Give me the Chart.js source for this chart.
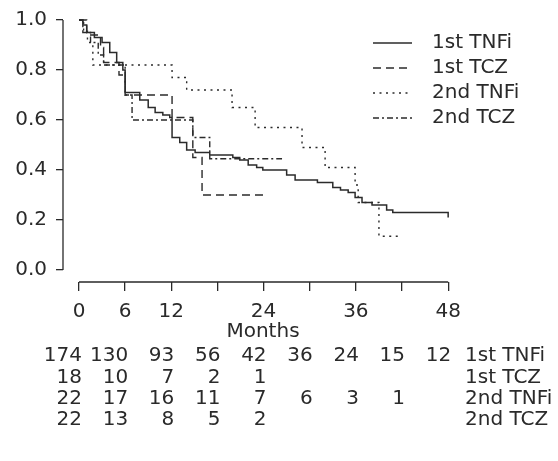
<!DOCTYPE html>
<html>
<head>
<meta charset="utf-8">
<script src="https://cdn.jsdelivr.net/npm/chart.js@4.4.1/dist/chart.umd.min.js"></script>
<style>
  html, body { margin: 0; padding: 0; background: #fff; }
</style>
</head>
<body>
<canvas id="kmChart" width="558" height="461"></canvas>
<script>
// Kaplan-Meier curves: event time (months) and survival after the step
const tnfi1Months = [0, 0.5, 1.0, 2.0, 3.0, 4.0, 4.9, 5.7, 6.0, 7.9, 9.0, 9.9, 10.9, 11.8, 12.1, 13.1, 14.0, 15.1, 17.0, 20.0, 20.9, 22.0, 23.1, 23.9, 27.0, 28.1, 31.0, 33.0, 34.0, 35.0, 35.9, 36.8, 38.1, 40.0, 40.8, 48.0];
const tnfi1Surv   = [1.0, 0.98, 0.95, 0.93, 0.91, 0.87, 0.83, 0.80, 0.71, 0.68, 0.65, 0.63, 0.62, 0.61, 0.53, 0.51, 0.48, 0.47, 0.46, 0.45, 0.44, 0.42, 0.41, 0.40, 0.38, 0.36, 0.35, 0.33, 0.32, 0.31, 0.29, 0.27, 0.26, 0.24, 0.23, 0.21];

const tcz1Months = [0, 1.0, 2.8, 3.2, 5.2, 6.0, 12.1, 14.8, 16.0, 24.0];
const tcz1Surv   = [1.0, 0.94, 0.89, 0.83, 0.78, 0.70, 0.61, 0.45, 0.30, 0.30];

const tnfi2Months = [0, 0.6, 1.1, 1.8, 12.1, 14.0, 19.9, 22.9, 29.0, 32.0, 35.9, 36.3, 39.0, 41.7];
const tnfi2Surv   = [1.0, 0.955, 0.91, 0.82, 0.77, 0.72, 0.65, 0.57, 0.49, 0.41, 0.34, 0.27, 0.135, 0.135];

const tcz2Months = [0, 0.5, 1.5, 2.5, 3.2, 6.0, 6.9, 14.8, 17.0, 26.4];
const tcz2Surv   = [1.0, 0.95, 0.91, 0.86, 0.82, 0.70, 0.60, 0.53, 0.445, 0.445];

const seriesNames = ['1st TNFi', '1st TCZ', '2nd TNFi', '2nd TCZ'];

// axis ticks
const xTickValues = [0, 6, 12, 18, 24, 30, 36, 42, 48];
const xTickLabels = ['0', '6', '12', '', '24', '', '36', '', '48'];
const yTickValues = [0, 0.2, 0.4, 0.6, 0.8, 1.0];
const yTickLabels = ['0.0', '0.2', '0.4', '0.6', '0.8', '1.0'];

// numbers at risk
const riskTimes = [0, 6, 12, 18, 24, 30, 36, 42, 48];
const riskTnfi1 = [174, 130, 93, 56, 42, 36, 24, 15, 12];
const riskTcz1  = [18, 10, 7, 2, 1];
const riskTnfi2 = [22, 17, 16, 11, 7, 6, 3, 1];
const riskTcz2  = [22, 13, 8, 5, 2];

const FONT = 'DejaVu Sans';
const FSIZE = 20;
const INK = '#2a2a2a';

function toPoints(xs, ys) {
  return xs.map((m, i) => ({ x: m, y: ys[i] }));
}

function makeSet(label, xs, ys, dash, width) {
  return {
    label: label,
    data: toPoints(xs, ys),
    borderColor: '#2b2b2b',
    borderWidth: width,
    borderDash: dash,
    stepped: true,
    pointRadius: 0,
    fill: false
  };
}

// axes lines, legend and risk table
const extrasPlugin = {
  id: 'extras',
  afterDraw(chart) {
    const ctx = chart.ctx;
    const xs = chart.scales.x, ys = chart.scales.y, area = chart.chartArea;
    ctx.save();
    ctx.strokeStyle = INK;
    ctx.lineWidth = 1.3;
    ctx.setLineDash([]);
    ctx.beginPath();
    ctx.moveTo(xs.getPixelForValue(0), area.bottom);
    ctx.lineTo(xs.getPixelForValue(48), area.bottom);
    ctx.moveTo(area.left, ys.getPixelForValue(0));
    ctx.lineTo(area.left, ys.getPixelForValue(1));
    ctx.stroke();

    // legend
    ctx.font = FSIZE + 'px "' + FONT + '"';
    ctx.fillStyle = INK;
    ctx.textBaseline = 'middle';
    ctx.textAlign = 'left';
    chart.data.datasets.forEach((ds, i) => {
      const ly = ys.getPixelForValue(1) + 23 + i * 25;
      ctx.beginPath();
      ctx.lineWidth = ds.borderWidth;
      ctx.strokeStyle = ds.borderColor;
      ctx.setLineDash(ds.borderDash);
      ctx.moveTo(area.right - 90, ly);
      ctx.lineTo(area.right - 51, ly);
      ctx.stroke();
      ctx.fillText(ds.label, area.right - 31, ly);
    });

    // numbers at risk
    const rows = [riskTnfi1, riskTcz1, riskTnfi2, riskTcz2];
    rows.forEach((row, r) => {
      const ry = area.bottom + 74 + r * 21.4;
      ctx.textAlign = 'right';
      row.forEach((n, i) => {
        ctx.fillText(String(n), xs.getPixelForValue(riskTimes[i]) + 3, ry);
      });
      ctx.textAlign = 'left';
      ctx.fillText(seriesNames[r], area.right + 2, ry);
    });
    ctx.restore();
  }
};

const ctx = document.getElementById('kmChart').getContext('2d');
new Chart(ctx, {
  type: 'line',
  data: {
    datasets: [
      makeSet(seriesNames[0], tnfi1Months, tnfi1Surv, [], 1.5),
      makeSet(seriesNames[1], tcz1Months, tcz1Surv, [8, 5], 1.4),
      makeSet(seriesNames[2], tnfi2Months, tnfi2Surv, [2, 4.5], 1.4),
      makeSet(seriesNames[3], tcz2Months, tcz2Surv, [6, 3, 2, 3], 1.4)
    ]
  },
  options: {
    responsive: false,
    animation: false,
    devicePixelRatio: 1,
    layout: { padding: { left: 0, top: 10, right: 95, bottom: 117 } },
    plugins: {
      legend: { display: false },
      tooltip: { enabled: false }
    },
    scales: {
      x: {
        type: 'linear',
        min: -2.08,
        max: 49.93,
        afterFit: (scale) => { scale.height = 62; },
        afterBuildTicks: (scale) => { scale.ticks = xTickValues.map(v => ({ value: v })); },
        ticks: {
          autoSkip: false,
          maxRotation: 0,
          padding: 9,
          color: INK,
          font: { family: FONT, size: FSIZE },
          callback: (v) => xTickLabels[xTickValues.indexOf(v)]
        },
        grid: { drawOnChartArea: false, drawTicks: true, tickLength: 9, color: INK, lineWidth: 1.3 },
        border: { display: false },
        title: {
          display: true,
          text: 'Months',
          color: INK,
          font: { family: FONT, size: FSIZE },
          padding: { top: 0, bottom: 0 }
        }
      },
      y: {
        min: -0.048,
        max: 1.04,
        afterFit: (scale) => {
          scale.width = 63;
          scale.paddingTop = 0;
          scale.paddingBottom = 0;
        },
        afterBuildTicks: (scale) => { scale.ticks = yTickValues.map(v => ({ value: v })); },
        ticks: {
          autoSkip: false,
          padding: 9,
          color: INK,
          font: { family: FONT, size: FSIZE },
          callback: (v) => yTickLabels[yTickValues.indexOf(v)]
        },
        grid: { drawOnChartArea: false, drawTicks: true, tickLength: 7, color: INK, lineWidth: 1.3 },
        border: { display: false }
      }
    }
  },
  plugins: [extrasPlugin]
});
</script>
</body>
</html>
